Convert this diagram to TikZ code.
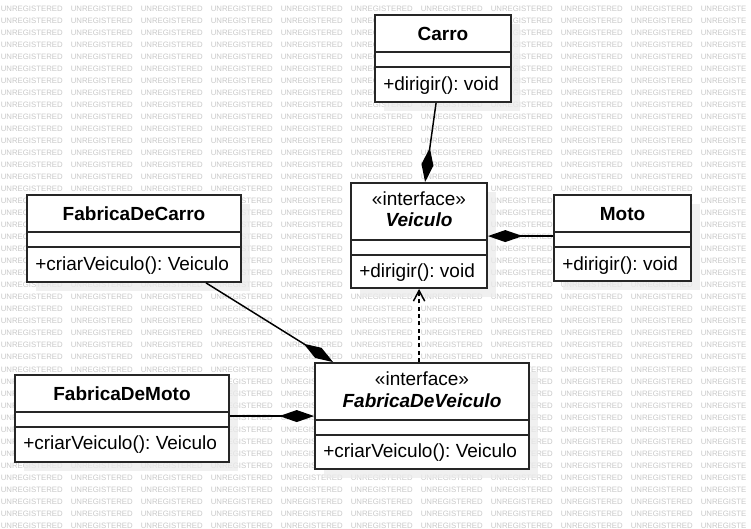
\documentclass[tikz,border=0pt]{standalone}
\usepackage{fontspec}
\setmainfont{Liberation Sans}
\usetikzlibrary{arrows.meta,calc,fit}
\frenchspacing
\newcommand\umlclass[7]{%
  \fill[boxshadow] (#2+9,#3+9) rectangle (#4+9,#5+9);
  \node[umlbox, fit={(#2,#3) (#4,#5)}] (#1) {};
  \draw[divider] (#2,#6) -- (#4,#6);
  \draw[divider] (#2,#7) -- (#4,#7);
}
\def\boxlist{375/15/511/102,351/183/487/288,554/195/691/281,27/195/241/282,15/375/229/462,315/363/529/469}
\begin{document}
\begin{tikzpicture}[x=0.75pt,y=-0.75pt,
  wmark/.style={anchor=base west, inner sep=0pt, text=black!21, font=\fontsize{5.85pt}{6pt}\selectfont},
  umlbox/.style={draw=black!85, line width=1.4pt, fill=white, inner sep=0pt},
  boxshadow/.style={fill=black!8, opacity=0.75},
  divider/.style={draw=black!85, line width=1.4pt},
  txt/.style={inner sep=0pt, text=black, font=\fontsize{14.25pt}{17pt}\selectfont},
  titletxt/.style={txt, anchor=base, font=\fontsize{14.25pt}{17pt}\selectfont\bfseries},
  ifacetxt/.style={txt, anchor=base, font=\fontsize{14.25pt}{17pt}\selectfont\bfseries\itshape},
  stereotxt/.style={txt, anchor=base},
  methtxt/.style={txt, anchor=base west},
  comp/.style={line width=1.1pt, black, -{Diamond[length=26pt,width=9pt]}},
  dep/.style={line width=1.1pt, black, dash pattern=on 3pt off 2.5pt, -{Straight Barb[length=8pt,width=8.5pt,line width=1.1pt]}}
]
\useasboundingbox (0,0) rectangle (751,529);
\fill[white] (0,0) rectangle (751,529);
% watermark: whole words where free, single letters where a word meets a box or the edge
\foreach \r in {0,...,43} {
  \foreach \c in {0,...,10} {
    \pgfmathsetmacro\wx{70*\c+0.5}
    \pgfmathsetmacro\wy{11.1+12.03*\r}
    \xdef\wstate{0}
    \foreach \ba/\bb/\bc/\bd in \boxlist {
      \pgfmathtruncatemacro\tmp{((\wx>=\ba) && (\wx+62<=\bc) && (\wy-5.7>=\bb) && (\wy<=\bd)) ? 2 : (((\wx<\bc) && (\wx+62>\ba) && (\wy>\bb) && (\wy-5.7<\bd)) ? 1 : 0)}
      \ifnum\tmp>\wstate\relax \xdef\wstate{\tmp}\fi
    }
    \ifnum\c=10 \ifnum\wstate=0 \xdef\wstate{1}\fi\fi
    \ifnum\wstate=0
      \node[wmark] (wm-\r-\c) at (\wx,\wy) {UNREGISTERED};
    \fi
    \ifnum\wstate=1
      \foreach \ch/\off/\lw [count=\li] in {U/0/5.63,N/5.63/5.63,R/11.26/5.63,E/16.89/5.2,G/22.09/6.07,I/28.16/2.17,S/30.33/5.2,T/35.53/4.77,E/40.3/5.2,R/45.5/5.63,E/51.13/5.2,D/56.33/5.63} {
        \pgfmathsetmacro\lx{\wx+\off}
        \xdef\lhide{0}
        \foreach \ba/\bb/\bc/\bd in \boxlist {
          \pgfmathtruncatemacro\tmp{((\lx>=\ba) && (\lx+\lw<=\bc) && (\wy-5.7>=\bb) && (\wy<=\bd)) ? 1 : 0}
          \ifnum\tmp=1 \xdef\lhide{1}\fi
        }
        \pgfmathtruncatemacro\tmp{(\lx+\lw>751.2) ? 1 : 0}
        \ifnum\tmp=1 \xdef\lhide{1}\fi
        \ifnum\lhide=0
          \node[wmark] (wm-\r-\c-\li) at (\lx,\wy) {\ch};
        \fi
      }
    \fi
  }
}

% classes
\umlclass{carro}{375}{15}{511}{102}{52}{67}
\umlclass{veiculo}{351}{183}{487}{288}{240}{255}
\umlclass{moto}{554}{195}{691}{281}{232}{247}
\umlclass{fcarro}{27}{195}{241}{282}{232}{247}
\umlclass{fmoto}{15}{375}{229}{462}{412}{427}
\umlclass{fveiculo}{315}{363}{529}{469}{420}{435}

% texts
\node[titletxt] (carro-title) at (443,40.5) {Carro};
\node[methtxt] (carro-op) at (383,90) {+dirigir(): void};

\node[stereotxt] (veiculo-st) at (419,205) {«interface»};
\node[ifacetxt] (veiculo-title) at (419,226.5) {Veiculo};
\node[methtxt] (veiculo-op) at (359,277.5) {+dirigir(): void};

\node[titletxt] (moto-title) at (622.5,220.5) {Moto};
\node[methtxt] (moto-op) at (562,270) {+dirigir(): void};

\node[titletxt] (fcarro-title) at (134,220.5) {FabricaDeCarro};
\node[methtxt] (fcarro-op) at (35,270.5) {+criarVeiculo(): Veiculo};

\node[titletxt] (fmoto-title) at (122,400) {FabricaDeMoto};
\node[methtxt] (fmoto-op) at (23,449.5) {+criarVeiculo(): Veiculo};

\node[stereotxt] (fveiculo-st) at (422,385) {«interface»};
\node[ifacetxt] (fveiculo-title) at (422,407) {FabricaDeVeiculo};
\node[methtxt] (fveiculo-op) at (323,457) {+criarVeiculo(): Veiculo};

% connectors
\draw[comp] ($(carro.south west)+(62,0)$) -- ($(veiculo.north west)+(75,0)$);
\draw[comp] ($(moto.north west)+(0,42)$) -- ($(veiculo.north east)+(0,54)$);
\draw[comp] ($(fcarro.south west)+(180,0)$) -- ($(fveiculo.north west)+(19,0)$);
\draw[comp] ($(fmoto.north east)+(0,42)$) -- ($(fveiculo.north west)+(0,54)$);
\draw[dep] ($(fveiculo.north west)+(105,0)$) -- ($(veiculo.south west)+(69,0)$);
\end{tikzpicture}
\end{document}
